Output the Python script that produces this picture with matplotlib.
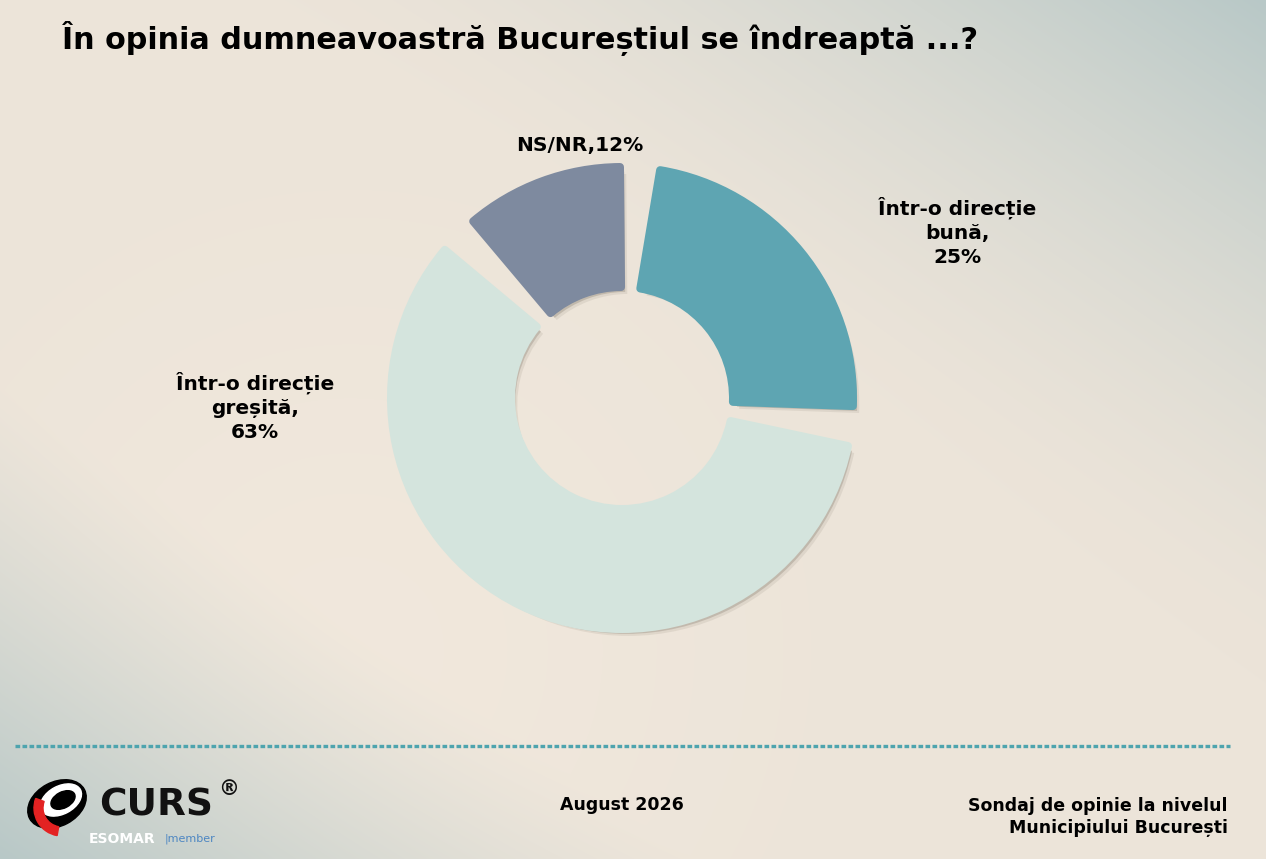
import numpy as np
import matplotlib
matplotlib.use('Agg')
import matplotlib.pyplot as plt
from matplotlib.patches import Wedge, Ellipse
import matplotlib.patheffects as pe

title = 'În opinia dumneavoastră Bucureștiul se îndreaptă ...?'
categories = ['Într-o direcție bună', 'Într-o direcție greșită', 'NS/NR']
values = [25, 63, 12]
labels = ['Într-o direcție\nbună,\n25%', 'Într-o direcție\ngreșită,\n63%', 'NS/NR,12%']
colors = ['#5ea5b2', '#d4e4dd', '#7e8a9f']
label_pos = [(957, 232), (255, 407), (580, 146)]

W, H = 1266, 859
fig = plt.figure(figsize=(12.66, 8.59), dpi=100)
ax = fig.add_axes([0, 0, 1, 1])

# background gradient
yy, xx = np.mgrid[0:H, 0:W]
s = xx / W - yy / H
beige = np.array([236, 228, 217]) / 255
warm = np.array([242, 233, 221]) / 255
blue = np.array([184, 200, 199]) / 255
wt = np.clip((s - 0.2) / 0.8, 0, 1) ** 1.6
wb = np.clip((-s - 0.45) / 0.55, 0, 1) ** 1.2
ww = np.exp(-((xx - 350) ** 2 + (yy - 650) ** 2) / (2 * 260 ** 2)) * 0.8
bg = beige[None, None, :] * np.ones((H, W, 1))
bg = bg * (1 - ww[..., None]) + warm * ww[..., None]
bg = bg * (1 - wt[..., None]) + blue * wt[..., None]
bg = bg * (1 - wb[..., None]) + blue * wb[..., None]
ax.imshow(bg, extent=(0, W, H, 0), aspect='auto', zorder=0)
ax.set_xlim(0, W)
ax.set_ylim(H, 0)
ax.axis('off')

# donut with gaps between slices
cx, cy = 622, 398
stroke = 8
r_out = 235 - stroke / 2
r_in = 107 + stroke / 2
gap = 10
span_total = 360 - gap * len(values)
a = 85.5 - gap / 2
shadow = [pe.SimplePatchShadow(offset=(1.5, -2), shadow_rgbFace='#5e5546', alpha=0.3),
          pe.SimplePatchShadow(offset=(3, -3.5), shadow_rgbFace='#5e5546', alpha=0.22),
          pe.SimplePatchShadow(offset=(4.5, -5), shadow_rgbFace='#5e5546', alpha=0.1),
          pe.Normal()]
for v, c in zip(values, colors):
    span = v / sum(values) * span_total
    w = Wedge((cx, cy), r_out, -a, -(a - span), width=r_out - r_in,
              facecolor=c, edgecolor=c, linewidth=stroke * 0.72, joinstyle='round', zorder=3)
    w.set_path_effects(shadow)
    ax.add_patch(w)
    a = a - span - gap

for txt, (x, y) in zip(labels, label_pos):
    ax.text(x, y, txt, ha='center', va='center', fontsize=14.5, fontweight='bold',
            linespacing=1.35, color='black', zorder=5)

ax.text(62, 38, title, ha='left', va='center', fontsize=21.75, fontweight='bold', color='black')

# footer
ax.plot([15, 1230], [746, 746], color='#4ea4ae', linewidth=2.4, dashes=(1.4, 0.7),
        solid_capstyle='butt', dash_capstyle='butt')
ax.text(622, 805, 'August 2026', ha='center', va='center', fontsize=12.5, fontweight='bold')
ax.text(1228, 817, 'Sondaj de opinie la nivelul\nMunicipiului București', ha='right', va='center',
        multialignment='right', fontsize=12.5, fontweight='bold', linespacing=1.35)

# logo
ax.add_patch(Ellipse((57, 804), 62, 44, angle=-28, color='black', zorder=4))
ax.add_patch(Ellipse((61, 800), 44, 28, angle=-28, color='white', zorder=5))
ax.add_patch(Ellipse((63, 800), 26, 16, angle=-28, color='black', zorder=6))
ax.add_patch(Wedge((62, 808), 28, 100, 200, width=9, color='#e32222', zorder=7))
ax.text(99, 806, 'CURS', ha='left', va='center', fontsize=27, fontweight='heavy', color='#111111')
ax.text(229, 789, '®', ha='center', va='center', fontsize=15, fontweight='bold', color='#111111')
ax.text(89, 839, 'ESOMAR', ha='left', va='center', fontsize=10, fontweight='bold', color='white')
ax.text(165, 839, '|member', ha='left', va='center', fontsize=8, color='#4d86c2')

fig.savefig('out.png', dpi=100)
